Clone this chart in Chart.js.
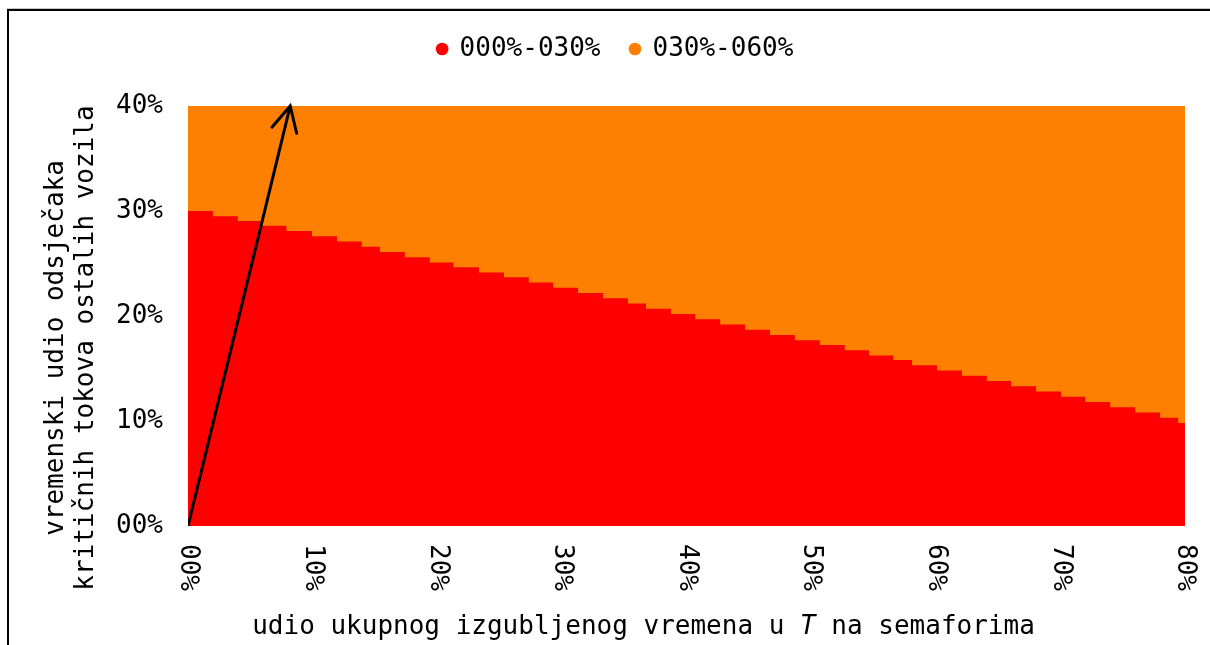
<!DOCTYPE html>
<html>
<head>
<meta charset="utf-8">
<script src="https://cdn.jsdelivr.net/npm/chart.js@4"></script>
<style>
  html, body { margin: 0; padding: 0; background: #fff; overflow: hidden; }
  .rule { position: absolute; background: #000; }
  #topline { left: 7px; right: 0; top: 9px; height: 2px; border-top: 1px solid #c8c8c8; margin-top: -1px; }
  #leftline { left: 7px; top: 9px; width: 2px; bottom: 0; }
  #chart { position: absolute; left: 0; top: 0; }
</style>
</head>
<body>
<div id="topline" class="rule"></div>
<div id="leftline" class="rule"></div>
<canvas id="chart" width="1210" height="645"></canvas>
<script>
// boundary between the two bands (x breakpoints, % of lost time)
const stepX = [0, 2.0, 4.0, 5.9, 7.9, 9.95, 11.95, 13.95, 15.4, 17.4, 19.4, 21.3, 23.35, 25.35, 27.35,
  29.3, 31.3, 33.3, 35.3, 36.75, 38.75, 40.7, 42.7, 44.7, 46.7, 48.7, 50.7, 52.7, 54.65, 56.6,
  58.1, 60.1, 62.1, 64.1, 66.05, 68.05, 70.05, 72.0, 74.0, 76.0, 78.0, 79.45, 80];
// top of the red band, held from each breakpoint to the next
const stepY = [30.0, 29.5, 29.05, 28.6, 28.1, 27.6, 27.1, 26.6, 26.1, 25.6, 25.1, 24.65, 24.15, 23.7, 23.2,
  22.7, 22.2, 21.7, 21.2, 20.7, 20.2, 19.7, 19.2, 18.7, 18.2, 17.7, 17.25, 16.75, 16.25, 15.8,
  15.3, 14.8, 14.3, 13.8, 13.3, 12.8, 12.3, 11.8, 11.3, 10.8, 10.3, 9.8, 9.8];
const topX = [0, 80];
const topY = [40, 40];
const arrowX = [0, 8.2];
const arrowY = [0, 40];

const bandLabels = ['000%-030%', '030%-060%'];
const bandColors = ['#FF0000', '#FF8000'];
const xTickValues = [0, 10, 20, 30, 40, 50, 60, 70, 80];
const xTickLabels = ['00%', '10%', '20%', '30%', '40%', '50%', '60%', '70%', '80%'];
const yTickValues = [0, 10, 20, 30, 40];
const yTickLabels = ['00%', '10%', '20%', '30%', '40%'];
const xTitle = ['udio ukupnog izgubljenog vremena u ', 'T', ' na semaforima'];
const yTitle = ['vremenski udio odsječaka', 'kritičnih tokova ostalih vozila'];

const FONT = '"DejaVu Sans Mono", monospace';
const FS = 26;

const toPts = (xs, ys) => xs.map((x, i) => ({ x: x, y: ys[i] }));

// extra room under the legend
const legendGap = {
  id: 'legendGap',
  beforeInit(chart) {
    const fit = chart.legend.fit;
    chart.legend.fit = function () {
      fit.call(this);
      this.height += 34;
    };
  }
};

// axis titles, rotated x ticks, arrow head
const overlay = {
  id: 'overlay',
  afterDatasetsDraw(chart) {
    const ctx = chart.ctx;
    const pts = chart.getDatasetMeta(2).data;
    const tip = pts[1], base = pts[0];
    const ang = Math.atan2(base.y - tip.y, base.x - tip.x);
    const len = 28, spread = 27 * Math.PI / 180;
    ctx.save();
    ctx.strokeStyle = '#000';
    ctx.lineWidth = 3;
    ctx.lineCap = 'round';
    ctx.beginPath();
    ctx.moveTo(tip.x + len * Math.cos(ang - spread), tip.y + len * Math.sin(ang - spread));
    ctx.lineTo(tip.x, tip.y);
    ctx.lineTo(tip.x + len * Math.cos(ang + spread), tip.y + len * Math.sin(ang + spread));
    ctx.stroke();
    ctx.restore();
  },
  afterDraw(chart) {
    const { ctx, chartArea: a } = chart;
    const xs = chart.scales.x;
    ctx.save();
    ctx.fillStyle = '#000';
    ctx.font = FS + 'px ' + FONT;

    xTickValues.forEach((v, i) => {
      ctx.save();
      ctx.translate(xs.getPixelForValue(v), a.bottom + 18);
      ctx.rotate(Math.PI / 2);
      ctx.textAlign = 'left';
      ctx.textBaseline = 'middle';
      ctx.fillText(xTickLabels[i], 0, 0);
      ctx.restore();
    });

    // x title, T in italics
    const fonts = [FS + 'px ' + FONT, 'italic ' + FS + 'px ' + FONT, FS + 'px ' + FONT];
    const widths = xTitle.map((t, i) => { ctx.font = fonts[i]; return ctx.measureText(t).width; });
    const total = widths.reduce((s, w) => s + w, 0);
    let cx = (a.left + a.right) / 2 - 43 - total / 2;
    ctx.textAlign = 'left';
    ctx.textBaseline = 'alphabetic';
    xTitle.forEach((t, i) => {
      ctx.font = fonts[i];
      ctx.fillText(t, cx, 634);
      cx += widths[i];
    });

    // y title, two lines
    ctx.font = FS + 'px ' + FONT;
    ctx.translate(56, (a.top + a.bottom) / 2 + 32);
    ctx.rotate(-Math.PI / 2);
    ctx.textAlign = 'center';
    ctx.textBaseline = 'middle';
    ctx.fillText(yTitle[0], 0, 0);
    ctx.fillText(yTitle[1], 0, 30);
    ctx.restore();
  }
};

new Chart(document.getElementById('chart'), {
  type: 'line',
  data: {
    datasets: [
      {
        label: bandLabels[0],
        data: toPts(stepX, stepY),
        stepped: 'before',
        backgroundColor: bandColors[0],
        borderColor: bandColors[0],
        borderWidth: 0,
        pointRadius: 0,
        fill: 'origin',
        order: 1
      },
      {
        label: bandLabels[1],
        data: toPts(topX, topY),
        backgroundColor: bandColors[1],
        borderColor: bandColors[1],
        borderWidth: 0,
        pointRadius: 0,
        fill: 'origin',
        order: 2
      },
      {
        label: 'arrow',
        data: toPts(arrowX, arrowY),
        borderColor: '#000',
        borderWidth: 3,
        pointRadius: 0,
        fill: false,
        order: 0
      }
    ]
  },
  options: {
    responsive: false,
    animation: false,
    layout: { padding: { left: 46, right: 25, top: 6, bottom: 0 } },
    plugins: {
      tooltip: { enabled: false },
      legend: {
        position: 'top',
        labels: {
          filter: item => item.datasetIndex < 2,
          usePointStyle: true,
          pointStyle: 'circle',
          boxWidth: 9,
          boxHeight: 9,
          padding: 30,
          color: '#000',
          font: { family: FONT, size: FS }
        }
      }
    },
    scales: {
      x: {
        type: 'linear',
        min: 0,
        max: 80,
        grid: { display: false },
        border: { display: false },
        ticks: { display: false },
        afterFit: s => { s.height = 119; }
      },
      y: {
        min: 0,
        max: 40,
        grid: { display: false },
        border: { display: false },
        afterBuildTicks: s => { s.ticks = yTickValues.map(v => ({ value: v })); },
        ticks: {
          padding: 17,
          color: '#000',
          font: { family: FONT, size: FS },
          callback: v => yTickLabels[yTickValues.indexOf(v)]
        },
        afterFit: s => { s.width = 142; }
      }
    }
  },
  plugins: [legendGap, overlay]
});
</script>
</body>
</html>
